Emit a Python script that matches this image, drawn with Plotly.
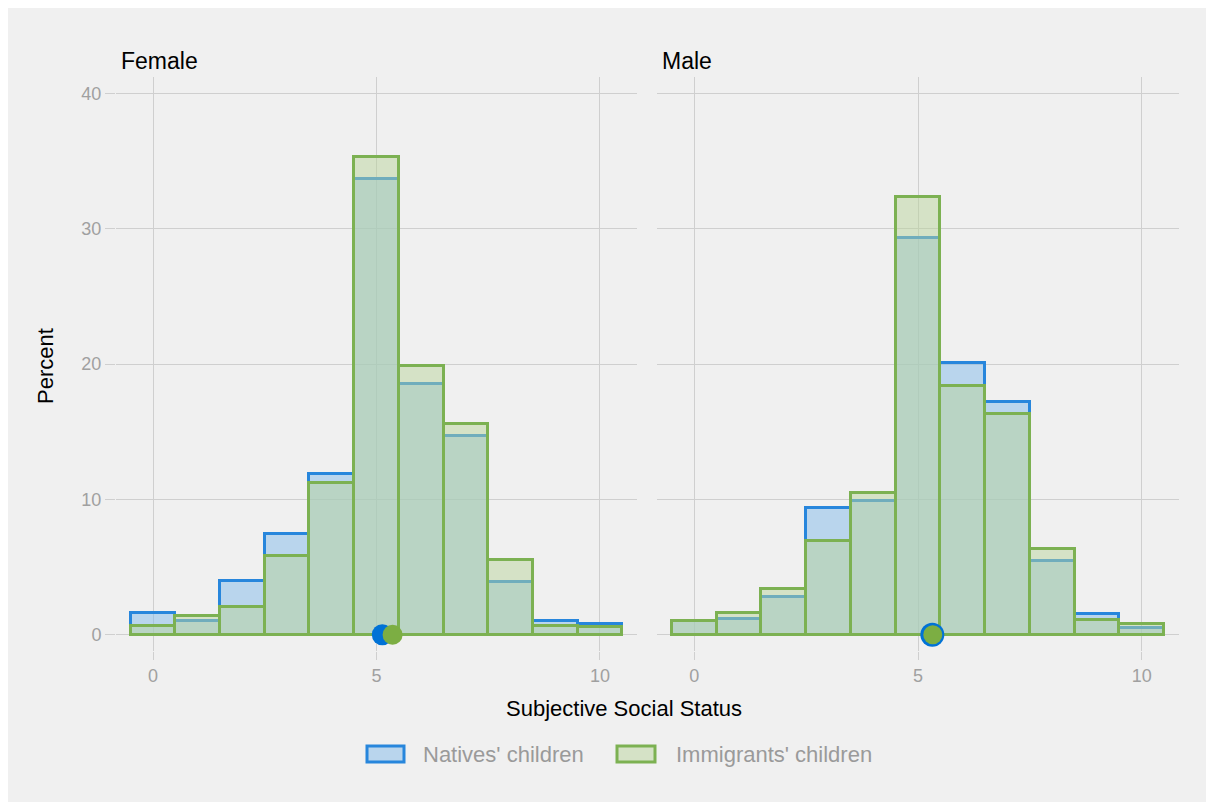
import plotly.graph_objects as go

# ---------------- data ----------------
status = [0, 1, 2, 3, 4, 5, 6, 7, 8, 9, 10]
female_natives = [1.6, 1.0, 4.0, 7.45, 11.9, 33.7, 18.55, 14.7, 3.9, 1.05, 0.8]
female_immigrants = [0.66, 1.4, 2.05, 5.8, 11.2, 35.3, 19.85, 15.6, 5.5, 0.65, 0.55]
male_natives = [1.0, 1.2, 2.8, 9.35, 9.85, 29.3, 20.1, 17.2, 5.45, 1.5, 0.5]
male_immigrants = [1.0, 1.6, 3.4, 6.9, 10.45, 32.35, 18.35, 16.3, 6.3, 1.1, 0.8]
mean_female = {"natives": 5.13, "immigrants": 5.36}
mean_male = {"natives": 5.32, "immigrants": 5.33}
panels = ["Female", "Male"]
series_names = ["Natives' children", "Immigrants' children"]
y_ticks = [0, 10, 20, 30, 40]
x_ticks = [0, 5, 10]

# ---------------- style ----------------
OFF = 8                     # page body margin in the screenshot
W, H = 1198, 794
BG = "#f0f0f0"
GRID = "#cfcfcf"
BLUE_LINE = "#2786dc"
BLUE_FILL = "rgba(130,186,234,0.5)"
GREEN_LINE = "#7cb152"
GREEN_FILL = "rgba(186,212,156,0.5)"
BLUE_DOT = "#0072d6"
GREEN_DOT = "#7cae43"
FONT = "Liberation Sans, Arial, Helvetica, sans-serif"


def px_x(p):
    return (p - OFF) / W


def px_y(p):
    return 1 - (p - OFF) / H


fig = go.Figure()

data = [
    (female_natives, female_immigrants, mean_female, "x", "y"),
    (male_natives, male_immigrants, mean_male, "x2", "y2"),
]
for i, (nat, imm, means, xa, ya) in enumerate(data):
    fig.add_trace(go.Bar(x=status, y=nat, width=1, xaxis=xa, yaxis=ya,
                         marker=dict(color=BLUE_FILL, line=dict(color=BLUE_LINE, width=3)),
                         name=series_names[0], showlegend=False))
    fig.add_trace(go.Bar(x=status, y=imm, width=1, xaxis=xa, yaxis=ya,
                         marker=dict(color=GREEN_FILL, line=dict(color=GREEN_LINE, width=3)),
                         name=series_names[1], showlegend=False))
    big = 21 if i == 0 else 24
    small = 20 if i == 0 else 19
    fig.add_trace(go.Scatter(x=[means["natives"]], y=[0], mode="markers", xaxis=xa, yaxis=ya,
                             marker=dict(color=BLUE_DOT, size=big, line=dict(width=0)),
                             showlegend=False, cliponaxis=False))
    fig.add_trace(go.Scatter(x=[means["immigrants"]], y=[0], mode="markers", xaxis=xa, yaxis=ya,
                             marker=dict(color=GREEN_DOT, size=small, line=dict(width=0)),
                             showlegend=False, cliponaxis=False))

xrange_ = [-0.83, 10.83]
yrange_ = [-1.2, 41.2]
ydom = [px_y(651), px_y(77)]

common_x = dict(range=xrange_, tickvals=x_ticks, showgrid=True, gridcolor=GRID, gridwidth=1,
                zeroline=False, showline=False, ticks="outside", ticklen=8, tickcolor=GRID,
                tickwidth=1, tickfont=dict(family=FONT, size=18, color="#a0a0a0"),
                automargin=False, fixedrange=True)
common_y = dict(range=yrange_, tickvals=y_ticks, showgrid=True, gridcolor=GRID, gridwidth=1,
                zeroline=False, showline=False, domain=ydom, automargin=False, fixedrange=True)

fig.update_layout(
    width=W, height=H,
    margin=dict(l=0, r=0, t=0, b=0),
    paper_bgcolor=BG,
    plot_bgcolor=BG,
    barmode="overlay",
    bargap=0,
    showlegend=False,
    font=dict(family=FONT),
    xaxis=dict(common_x, domain=[px_x(116), px_x(637)], anchor="y"),
    xaxis2=dict(common_x, domain=[px_x(657), px_x(1179)], anchor="y2"),
    yaxis=dict(common_y, anchor="x", ticks="outside", ticklen=10, tickcolor=GRID, tickwidth=1,
               tickfont=dict(family=FONT, size=18, color="#a0a0a0")),
    yaxis2=dict(common_y, anchor="x2", showticklabels=False, ticks=""),
)

shapes = [
    # legend keys
    dict(type="rect", xref="paper", yref="paper", x0=px_x(367), x1=px_x(404),
         y0=px_y(762), y1=px_y(746), fillcolor=BLUE_FILL, line=dict(color=BLUE_LINE, width=3)),
    dict(type="rect", xref="paper", yref="paper", x0=px_x(617), x1=px_x(655),
         y0=px_y(762), y1=px_y(746), fillcolor=GREEN_FILL, line=dict(color=GREEN_LINE, width=3)),
]
fig.update_layout(shapes=shapes)

annotations = [
    dict(text=panels[0], x=px_x(119), y=px_y(61), xref="paper", yref="paper",
         xanchor="left", yanchor="middle", showarrow=False,
         font=dict(family=FONT, size=23, color="black")),
    dict(text=panels[1], x=px_x(660), y=px_y(61), xref="paper", yref="paper",
         xanchor="left", yanchor="middle", showarrow=False,
         font=dict(family=FONT, size=23, color="black")),
    dict(text="Percent", x=px_x(45), y=px_y(366), xref="paper", yref="paper",
         xanchor="center", yanchor="middle", showarrow=False, textangle=-90,
         font=dict(family=FONT, size=22, color="black")),
    dict(text="Subjective Social Status", x=px_x(624), y=px_y(708), xref="paper", yref="paper",
         xanchor="center", yanchor="middle", showarrow=False,
         font=dict(family=FONT, size=22, color="black")),
    dict(text=series_names[0], x=px_x(421), y=px_y(754), xref="paper", yref="paper",
         xanchor="left", yanchor="middle", showarrow=False,
         font=dict(family=FONT, size=22, color="#9a9a9a")),
    dict(text=series_names[1], x=px_x(674), y=px_y(754), xref="paper", yref="paper",
         xanchor="left", yanchor="middle", showarrow=False,
         font=dict(family=FONT, size=22, color="#9a9a9a")),
]
fig.update_layout(annotations=annotations)

fig.write_html("out.html")
